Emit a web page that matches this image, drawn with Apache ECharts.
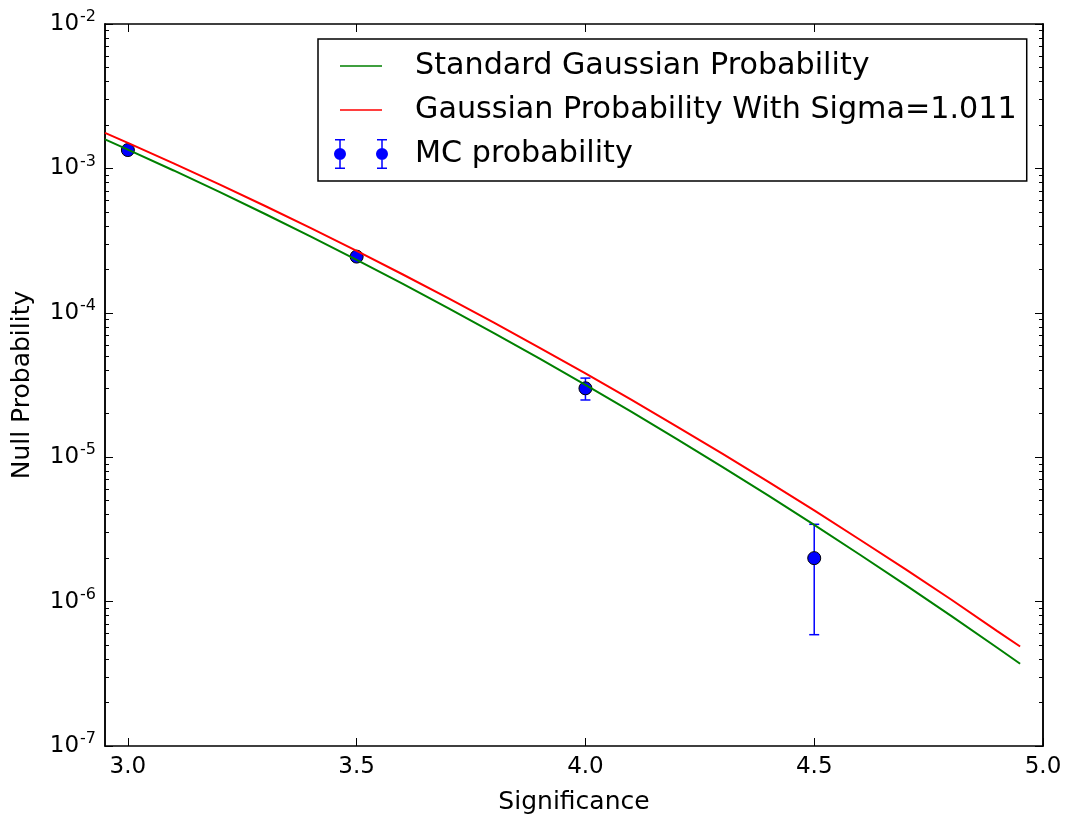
<!DOCTYPE html>
<html>
<head>
<meta charset="utf-8">
<script src="https://cdn.jsdelivr.net/npm/echarts@6/dist/echarts.min.js"></script>
<style>
  html, body { margin: 0; padding: 0; background: #fff; }
  #chart { width: 1065px; height: 820px; }
</style>
</head>
<body>
<div id="chart"></div>
<script>
// significance values where the curves were sampled
const sigmaX = [2.95, 3.0, 3.1, 3.2, 3.3, 3.4, 3.5, 3.6, 3.7, 3.8, 3.9, 4.0,
  4.1, 4.2, 4.3, 4.4, 4.5, 4.6, 4.7, 4.8, 4.9, 4.95];
const standardProb = [1.589e-3, 1.350e-3, 9.676e-4, 6.871e-4, 4.834e-4, 3.369e-4,
  2.326e-4, 1.591e-4, 1.078e-4, 7.235e-5, 4.810e-5, 3.167e-5, 2.066e-5, 1.335e-5,
  8.540e-6, 5.413e-6, 3.398e-6, 2.112e-6, 1.301e-6, 7.933e-7, 4.792e-7, 3.71e-7];
const widerProb = [1.761e-3, 1.502e-3, 1.084e-3, 7.75e-4, 5.49e-4, 3.855e-4,
  2.683e-4, 1.849e-4, 1.263e-4, 8.54e-5, 5.72e-5, 3.80e-5, 2.50e-5, 1.631e-5,
  1.053e-5, 6.74e-6, 4.28e-6, 2.68e-6, 1.67e-6, 1.03e-6, 6.25e-7, 4.89e-7];

// MC points and error bars
const mcX = [3.0, 3.5, 4.0, 4.5];
const mcProb = [1.34e-3, 2.45e-4, 3.0e-5, 2.0e-6];
const mcLow = [1.31e-3, 2.32e-4, 2.49e-5, 5.9e-7];
const mcHigh = [1.37e-3, 2.58e-4, 3.53e-5, 3.43e-6];

const xTicks = [3.0, 3.5, 4.0, 4.5, 5.0];
const yTicks = [1e-7, 1e-6, 1e-5, 1e-4, 1e-3, 1e-2];
const yMinorTicks = [];
for (let e = -7; e < -2; e++) {
  for (let k = 2; k <= 9; k++) yMinorTicks.push(k * Math.pow(10, e));
}

const FONT = 'DejaVu Sans';

const chart = echarts.init(document.getElementById('chart'));

const lineIcon = 'path://M0,0h0.01v0.01h-0.01z M6,14.25h42v1.5h-42z M53.99,29.99h0.01v0.01h-0.01z';
const mcIcon = 'path://M5.25,0h1.5v30h-1.5z M1,0h10v1.5h-10z M1,28.5h10v1.5h-10z ' +
  'M0,15a6,6 0 1,1 12,0a6,6 0 1,1 -12,0z ' +
  'M47.25,0h1.5v30h-1.5z M43,0h10v1.5h-10z M43,28.5h10v1.5h-10z ' +
  'M42,15a6,6 0 1,1 12,0a6,6 0 1,1 -12,0z';

function yLabel(v) {
  const e = Math.round(Math.log10(v));
  return '{b|10}{s|' + e + '}';
}

const baseY = {
  type: 'log',
  logBase: 10,
  min: 1e-7,
  max: 1e-2,
  splitLine: { show: false },
  axisLine: { show: true, onZero: false, lineStyle: { color: '#000', width: 1.5 } }
};

const option = {
  animation: false,
  textStyle: { fontFamily: FONT },
  grid: { left: 105, right: 22, top: 24, bottom: 70 },
  legend: {
    orient: 'vertical',
    left: 318,
    top: 39,
    padding: [12, 10, 12, 16],
    borderColor: '#000',
    borderWidth: 1.5,
    itemWidth: 54,
    itemHeight: 30,
    itemGap: 14,
    selectedMode: false,
    textStyle: { fontFamily: FONT, fontSize: 30.2, color: '#000', padding: [0, 0, 0, 22] },
    data: [
      { name: 'Standard Gaussian Probability', icon: lineIcon },
      { name: 'Gaussian Probability With Sigma=1.011', icon: lineIcon },
      { name: 'MC probability', icon: mcIcon }
    ]
  },
  xAxis: [
    {
      type: 'value',
      min: 2.95,
      max: 5.0,
      name: 'Significance',
      nameLocation: 'middle',
      nameGap: 44,
      nameTextStyle: { fontFamily: FONT, fontSize: 25, color: '#000' },
      splitLine: { show: false },
      axisLine: { show: true, onZero: false, lineStyle: { color: '#000', width: 1.5 } },
      axisTick: { show: true, inside: true, length: 8, customValues: xTicks, lineStyle: { color: '#000' } },
      axisLabel: {
        customValues: xTicks,
        margin: 10,
        fontFamily: FONT,
        fontSize: 23,
        color: '#000',
        formatter: v => v.toFixed(1)
      }
    },
    {
      type: 'value',
      position: 'top',
      min: 2.95,
      max: 5.0,
      splitLine: { show: false },
      axisLine: { show: true, onZero: false, lineStyle: { color: '#000', width: 1.5 } },
      axisTick: { show: true, inside: true, length: 8, customValues: xTicks, lineStyle: { color: '#000' } },
      axisLabel: { show: false }
    }
  ],
  yAxis: [
    Object.assign({}, baseY, {
      position: 'left',
      name: 'Null Probability',
      nameLocation: 'middle',
      nameGap: 70,
      nameTextStyle: { fontFamily: FONT, fontSize: 25, color: '#000' },
      axisTick: { show: true, inside: true, length: 8, customValues: yTicks, lineStyle: { color: '#000' } },
      axisLabel: {
        customValues: yTicks,
        margin: 9,
        color: '#000',
        formatter: yLabel,
        rich: {
          b: { fontFamily: FONT, fontSize: 23, color: '#000' },
          s: { fontFamily: FONT, fontSize: 16, color: '#000', padding: [0, 0, 14, 1] }
        }
      }
    }),
    Object.assign({}, baseY, {
      position: 'left',
      axisTick: { show: true, inside: true, length: 4, customValues: yMinorTicks, lineStyle: { color: '#000' } },
      axisLabel: { show: false }
    }),
    Object.assign({}, baseY, {
      position: 'right',
      axisTick: { show: true, inside: true, length: 8, customValues: yTicks, lineStyle: { color: '#000' } },
      axisLabel: { show: false }
    }),
    Object.assign({}, baseY, {
      position: 'right',
      axisTick: { show: true, inside: true, length: 4, customValues: yMinorTicks, lineStyle: { color: '#000' } },
      axisLabel: { show: false }
    })
  ],
  series: [
    {
      name: 'Standard Gaussian Probability',
      type: 'line',
      z: 4,
      showSymbol: false,
      symbol: 'none',
      color: '#008000',
      lineStyle: { width: 2, color: '#008000' },
      data: sigmaX.map((x, i) => [x, standardProb[i]])
    },
    {
      name: 'Gaussian Probability With Sigma=1.011',
      type: 'line',
      z: 4,
      showSymbol: false,
      symbol: 'none',
      color: '#ff0000',
      lineStyle: { width: 2, color: '#ff0000' },
      data: sigmaX.map((x, i) => [x, widerProb[i]])
    },
    {
      name: 'MC probability',
      type: 'custom',
      z: 2,
      color: '#0000ff',
      renderItem: (params, api) => {
        const x = api.value(0);
        const top = api.coord([x, api.value(2)]);
        const bot = api.coord([x, api.value(1)]);
        const style = { stroke: '#0000ff', lineWidth: 1.5 };
        return {
          type: 'group',
          children: [
            { type: 'line', shape: { x1: top[0], y1: top[1], x2: bot[0], y2: bot[1] }, style },
            { type: 'line', shape: { x1: top[0] - 5, y1: top[1], x2: top[0] + 5, y2: top[1] }, style },
            { type: 'line', shape: { x1: bot[0] - 5, y1: bot[1], x2: bot[0] + 5, y2: bot[1] }, style }
          ]
        };
      },
      data: mcX.map((x, i) => [x, mcLow[i], mcHigh[i]])
    },
    {
      name: 'MC probability',
      type: 'scatter',
      z: 3,
      symbol: 'circle',
      symbolSize: 13,
      itemStyle: { color: '#0000ff', borderColor: '#000', borderWidth: 1, opacity: 1 },
      data: mcX.map((x, i) => [x, mcProb[i]])
    }
  ]
};

chart.setOption(option);
</script>
</body>
</html>
